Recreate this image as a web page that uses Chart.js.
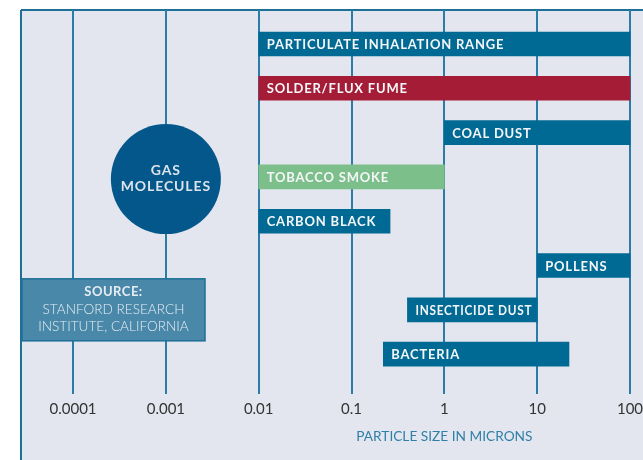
<!DOCTYPE html>
<html><head><meta charset="utf-8">
<script src="https://cdn.jsdelivr.net/npm/chart.js@4/dist/chart.umd.min.js"></script>
<style>html,body{margin:0;padding:0;background:#fff;}#wrap{width:643px;height:460px;position:relative}</style>
</head><body><div id="wrap"><canvas id="c" width="643" height="460"></canvas></div>
<script>
const categories = ['PARTICULATE INHALATION RANGE','SOLDER/FLUX FUME','COAL DUST','TOBACCO SMOKE','CARBON BLACK','POLLENS','INSECTICIDE DUST','BACTERIA'];
const sizeMin = [0.01, 0.01, 1, 0.01, 0.01, 10, 0.4, 0.22];
const sizeMax = [100, 100, 100, 1, 0.26, 100, 10, 22];
const barColors = ['#006a94','#a51c36','#006a94','#7dbf8b','#006a94','#006a94','#006a94','#006a94'];
const tickValues = [0.0001, 0.001, 0.01, 0.1, 1, 10, 100];
const tickLabels = ['0.0001','0.001','0.01','0.1','1','10','100'];
const axisTitle = 'PARTICLE SIZE IN MICRONS';
const bubbleText = ['GAS','MOLECULES'];
const bubbleSize = 0.001;
const bubbleRow = 3.05;
const sourceText = ['SOURCE:','STANFORD RESEARCH','INSTITUTE, CALIFORNIA'];
const sourceRow = 6;

const FONT = 'Lato, "Open Sans", sans-serif';

const deco = {
  id: 'deco',
  beforeDraw(chart) {
    const ctx = chart.ctx;
    ctx.save();
    ctx.fillStyle = '#ffffff';
    ctx.fillRect(0, 0, chart.width, chart.height);
    ctx.fillStyle = '#e3e6ee';
    ctx.fillRect(21, 10, chart.width - 21, chart.height - 10);
    ctx.strokeStyle = '#1f6f96';
    ctx.lineWidth = 2;
    ctx.beginPath();
    ctx.moveTo(21, 10); ctx.lineTo(chart.width, 10);
    ctx.moveTo(21, 10); ctx.lineTo(21, chart.height);
    ctx.stroke();
    ctx.restore();
  },
  afterDatasetsDraw(chart) {
    const ctx = chart.ctx;
    const xs = chart.scales.x, ys = chart.scales.y;
    const meta = chart.getDatasetMeta(0);
    ctx.save();
    // bar labels
    ctx.font = 'bold 13px ' + FONT;
    ctx.letterSpacing = '0.8px';
    ctx.fillStyle = '#f4f6f8';
    ctx.textBaseline = 'middle';
    ctx.textAlign = 'left';
    meta.data.forEach((el, i) => {
      const left = Math.min(el.x, el.base);
      const w = Math.abs(el.x - el.base);
      ctx.fillText(categories[i], left + 8, el.y + 1, w - 13);
    });
    // gas molecules bubble
    const cx = xs.getPixelForValue(bubbleSize), cy = ys.getPixelForValue(bubbleRow);
    ctx.fillStyle = '#03578b';
    ctx.beginPath(); ctx.arc(cx, cy, 55, 0, Math.PI * 2); ctx.fill();
    ctx.fillStyle = '#dde3ea';
    ctx.textAlign = 'center';
    ctx.font = 'bold 14px ' + FONT;
    ctx.letterSpacing = '0.9px';
    ctx.fillText(bubbleText[0], cx, cy - 9);
    ctx.fillText(bubbleText[1], cx, cy + 7);
    // source box
    const by = ys.getPixelForValue(sourceRow);
    const bx0 = chart.chartArea.left + 1, bx1 = 205;
    ctx.fillStyle = '#4a88a9';
    ctx.fillRect(bx0, by - 31, bx1 - bx0, 62);
    ctx.strokeStyle = '#1f6f96';
    ctx.lineWidth = 1.5;
    ctx.strokeRect(bx0, by - 31, bx1 - bx0, 62);
    const tcx = (bx0 + bx1) / 2;
    ctx.fillStyle = '#e6edf2';
    ctx.letterSpacing = '0.5px';
    ctx.font = 'bold 13px ' + FONT;
    ctx.fillText(sourceText[0], tcx, by - 18);
    ctx.letterSpacing = '0px';
    ctx.font = '300 13.6px ' + FONT;
    ctx.fillText(sourceText[1], tcx, by);
    ctx.fillText(sourceText[2], tcx, by + 17);
    // axis title
    ctx.fillStyle = '#2f80a7';
    ctx.font = '13.7px ' + FONT;
    ctx.fillText(axisTitle, xs.getPixelForValue(1), 437);
    ctx.restore();
  }
};

new Chart(document.getElementById('c'), {
  type: 'bar',
  data: {
    datasets: [{
      data: categories.map((c, i) => ({ x: [sizeMin[i], sizeMax[i]], y: i })),
      backgroundColor: barColors,
      borderWidth: 0,
      barThickness: 24
    }]
  },
  options: {
    indexAxis: 'y',
    responsive: false,
    animation: false,
    devicePixelRatio: 1,
    layout: { padding: { left: 21, top: 10, right: 0, bottom: 0 } },
    plugins: { legend: { display: false }, tooltip: { enabled: false } },
    scales: {
      x: {
        type: 'logarithmic',
        min: 2.75e-5,
        max: 138,
        afterBuildTicks: s => { s.ticks = tickValues.map(v => ({ value: v })); },
        afterFit: s => { s.paddingLeft = 0; s.paddingRight = 0; s.height = 66; },
        ticks: {
          callback: (v, i) => tickLabels[i],
          color: '#333333',
          font: { family: FONT, size: 15 },
          padding: 6,
          maxRotation: 0,
          autoSkip: false
        },
        grid: { color: '#2a7da6', lineWidth: 2, drawTicks: false },
        border: { display: false }
      },
      y: {
        type: 'linear',
        reverse: true,
        offset: false,
        bounds: 'data',
        min: -0.767,
        max: 7.9,
        display: false,
        grid: { offset: false }
      }
    }
  },
  plugins: [deco]
});
</script>
</body></html>
